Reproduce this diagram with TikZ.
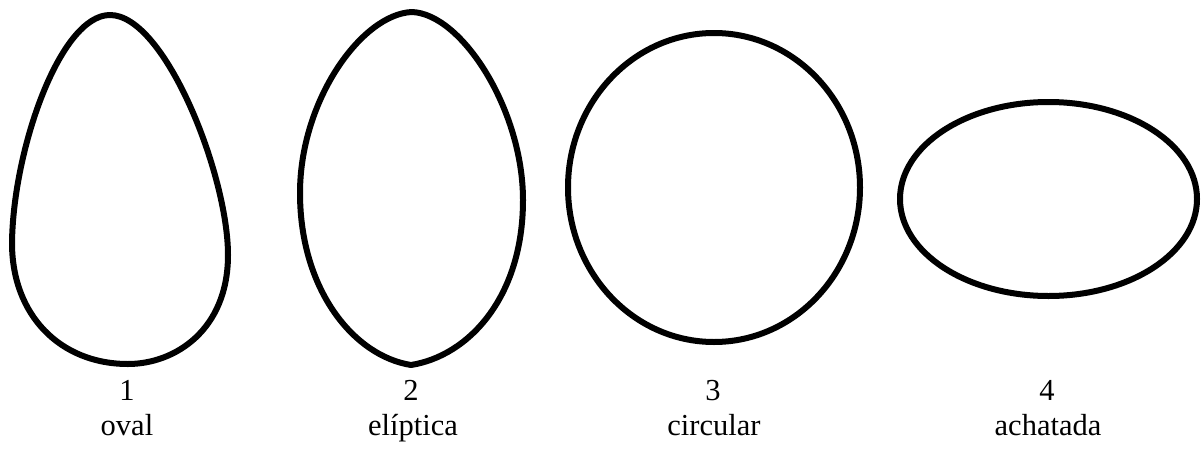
\documentclass[tikz,border=0pt]{standalone}
\usepackage{fontspec}
\setmainfont{Liberation Serif}
\tikzset{
  outline/.style={line width=6pt, black, line join=round},
  lbl/.style={anchor=base, inner sep=0pt, font=\fontsize{30.5}{35}\selectfont}
}
\begin{document}
\begin{tikzpicture}[x=1pt,y=-1pt]
\useasboundingbox (0,0) rectangle (1202,450);
% 1 oval
\draw[outline] (110,15) .. controls (165,15) and (228,175) .. (228,255)
  .. controls (228,330) and (175,364) .. (128,364)
  .. controls (60,364) and (12,315) .. (12,243)
  .. controls (13,150) and (60,15) .. (110,15) -- cycle;
% 2 eliptica
\draw[outline] (412,12) .. controls (462,14) and (523,110) .. (523,200)
  .. controls (523,298) and (468,356) .. (411,365)
  .. controls (354,356) and (300,290) .. (300,193)
  .. controls (300,100) and (362,14) .. (412,12) -- cycle;
% 3 circular
\draw[outline] (714,187.5) ellipse [x radius=146, y radius=154.5];
% 4 achatada
\draw[outline] (1048.5,199) ellipse [x radius=148.5, y radius=97];
% labels
\node[lbl] (n1) at (127,400.7) {1};
\node[lbl] (t1) at (127,435.7) {oval};
\node[lbl] (n2) at (411,400.7) {2};
\node[lbl] (t2) at (413,435.7) {elíptica};
\node[lbl] (n3) at (713,400.7) {3};
\node[lbl] (t3) at (714,435.7) {circular};
\node[lbl] (n4) at (1047,400.7) {4};
\node[lbl] (t4) at (1048,435.7) {achatada};
\end{tikzpicture}
\end{document}
